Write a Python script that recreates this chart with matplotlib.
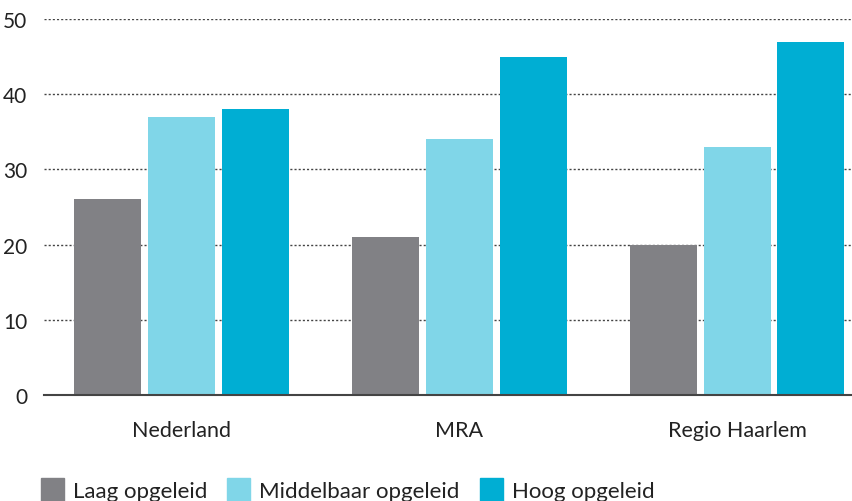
import matplotlib.pyplot as plt
import numpy as np
from matplotlib.patches import Patch

# Aandeel per opleidingsniveau en regio
regio = ['Nederland', 'MRA', 'Regio Haarlem']
laag = [26, 21, 20]
middelbaar = [37, 34, 33]
hoog = [38, 45, 47]
reeks_namen = ['Laag opgeleid', 'Middelbaar opgeleid', 'Hoog opgeleid']
kleuren = ['#818185', '#80d6e8', '#00aed3']
y_ticks = [0, 10, 20, 30, 40, 50]

plt.rcParams['font.family'] = ['Lato', 'DejaVu Sans']

fig = plt.figure(figsize=(8.52, 5.02), dpi=100)
ax = fig.add_axes([44 / 852, 106 / 502, 808 / 852, 376 / 502])

x = np.arange(len(regio))
breedte = 0.241
stap = 0.266
for i, (waarden, kleur) in enumerate(zip([laag, middelbaar, hoog], kleuren)):
    ax.bar(x + (i - 1) * stap, waarden, width=breedte, color=kleur, zorder=3)

ax.set_xlim(-0.496, 2.414)
ax.set_ylim(0, 50)
ax.set_yticks(y_ticks)
ax.set_xticks(x)
ax.set_xticklabels(regio)

# gestippelde hulplijnen
for t in y_ticks[1:]:
    ax.axhline(t, color='#444444', linestyle=(0, (1.5, 1.5)), linewidth=1, zorder=1)

for s in ['top', 'right', 'left']:
    ax.spines[s].set_visible(False)
ax.spines['bottom'].set_color('#444444')
ax.spines['bottom'].set_linewidth(1.5)
ax.spines['bottom'].set_zorder(4)
ax.tick_params(axis='y', length=0, pad=12, labelsize=15, labelcolor='#222222')
ax.tick_params(axis='x', length=0, pad=18, labelsize=15.5, labelcolor='#222222')

handles = [Patch(color=k) for k in kleuren]
fig.legend(handles, reeks_namen, loc='lower left', bbox_to_anchor=(41 / 852, 0.0),
           ncol=3, frameon=False, fontsize=16, handlelength=1.04, handleheight=1.22,
           handletextpad=0.4, columnspacing=0.9, borderpad=0, borderaxespad=0,
           labelcolor='#222222')

fig.savefig('out.png', dpi=100)
